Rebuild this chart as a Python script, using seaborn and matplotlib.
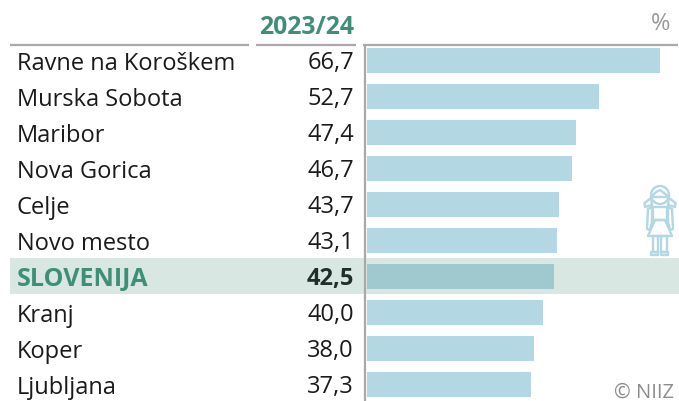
import pandas as pd
import seaborn as sns
import matplotlib.pyplot as plt
from matplotlib.patches import Circle, Rectangle, Polygon

# === Data ===
cities = ['Ravne na Koroškem', 'Murska Sobota', 'Maribor', 'Nova Gorica', 'Celje',
          'Novo mesto', 'SLOVENIJA', 'Kranj', 'Koper', 'Ljubljana']
values = [66.7, 52.7, 47.4, 46.7, 43.7, 43.1, 42.5, 40.0, 38.0, 37.3]
value_labels = ['66,7', '52,7', '47,4', '46,7', '43,7', '43,1', '42,5', '40,0', '38,0', '37,3']
year_label = '2023/24'
highlight = 'SLOVENIJA'

BAR = '#b3d7e3'
BAR_HL = '#9fc9cf'
BAND = '#d9e7e3'
GREEN = '#3f8f77'
RULE = '#a9a9a9'

W, H = 679, 401
ROW0, PITCH = 61, 36
BAR_X0 = 367
PX_PER_UNIT = 4.40

sns.set_theme(style='white')
plt.rcParams['font.family'] = ['Open Sans', 'DejaVu Sans']

df = pd.DataFrame({'city': cities, 'value': values})
fig = plt.figure(figsize=(W / 100, H / 100), dpi=100)

# === Pixel layer for table text, rules and icon ===
ov = fig.add_axes([0, 0, 1, 1], zorder=0)
ov.set_xlim(0, W)
ov.set_ylim(H, 0)
ov.axis('off')

# === Bars ===
ax = fig.add_axes([BAR_X0 / W, 0, (W - BAR_X0) / W, 1], zorder=1)
ax.patch.set_visible(False)
palette = {c: (BAR_HL if c == highlight else BAR) for c in cities}
sns.barplot(data=df, y='city', x='value', hue='city', palette=palette, legend=False,
            width=24.5 / PITCH, saturation=1, linewidth=0, edgecolor='none', ax=ax)
ax.set_xlim(0, (W - BAR_X0) / PX_PER_UNIT)
ax.set_ylim((H - ROW0 + 0.5) / PITCH, -(ROW0 - 0.5) / PITCH)
ax.axis('off')

# === Table ===
ov.add_patch(Rectangle((10, ROW0 + PITCH * cities.index(highlight) - 19), W - 10, 36,
                       color=BAND, lw=0))
for i, (c, lab) in enumerate(zip(cities, value_labels)):
    y = ROW0 + PITCH * i - 0.5
    hl = c == highlight
    ov.text(17, y, c, ha='left', va='center_baseline', fontsize=18 if hl else 17,
            color=GREEN if hl else '#1a1a1a', fontweight='bold' if hl else 'normal')
    ov.text(354, y, lab, ha='right', va='center_baseline', fontsize=17,
            color='#1f2f2a' if hl else '#1a1a1a', fontweight='bold' if hl else 'normal')

ov.text(354, 24, year_label, ha='right', va='center_baseline', fontsize=17.8,
        color=GREEN, fontweight='bold')
ov.text(670, 21, '%', ha='right', va='center_baseline', fontsize=17, color='#999999')
ov.text(674, 390, '© NIIZ', ha='right', va='center_baseline', fontsize=14.5, color='#8c8c8c')

# === Rules ===
for x0, x1 in [(10, 249), (256, 356), (363, 678)]:
    ov.plot([x0, x1], [44.5, 44.5], color=RULE, lw=1.6, solid_capstyle='butt')
ov.plot([364.5, 364.5], [44, H], color=RULE, lw=1.6, solid_capstyle='butt')

# === Girl icon ===
ink = dict(fill=False, edgecolor=BAR, lw=1.7)
ov.add_patch(Circle((660, 195), 9, **ink))
ov.add_patch(Polygon([(651, 197), (656, 192), (660, 190), (664, 193), (669, 197)],
                     joinstyle='round', **ink))
ov.add_patch(Polygon([(651, 198), (644.5, 203), (645, 207), (652, 205)], joinstyle='round', **ink))
ov.add_patch(Polygon([(669, 198), (675.5, 203), (675, 207), (668, 205)], joinstyle='round', **ink))
ov.add_patch(Polygon([(653, 207), (667, 207), (667, 220), (653, 220)], **ink))
ov.add_patch(Polygon([(655, 220), (665, 220), (672, 236), (648, 236)], joinstyle='round', **ink))
ov.add_patch(Polygon([(648, 209), (652, 207), (652, 222), (650, 230), (647, 229)],
                     joinstyle='round', **ink))
ov.add_patch(Polygon([(668, 207), (672, 209), (673, 229), (670, 230), (668, 222)],
                     joinstyle='round', **ink))
ov.add_patch(Rectangle((652.5, 236), 5.5, 16, **ink))
ov.add_patch(Rectangle((661, 236), 5.5, 16, **ink))
ov.add_patch(Rectangle((651, 252), 7, 3, joinstyle='round', **ink))
ov.add_patch(Rectangle((661, 252), 7, 3, joinstyle='round', **ink))

fig.savefig('out.png', dpi=100)
